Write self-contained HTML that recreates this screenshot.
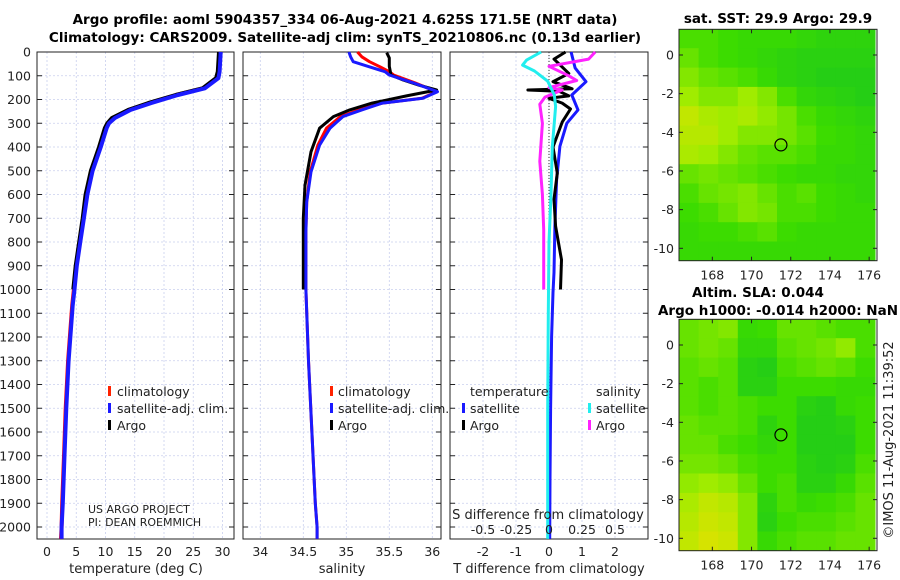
<!DOCTYPE html>
<html><head><meta charset="utf-8">
<style>
html,body{margin:0;padding:0;background:#fff;}
svg{display:block;font-family:"DejaVu Sans","Liberation Sans",sans-serif;}
</style></head>
<body>
<svg id="c" width="900" height="580" viewBox="0 0 900 580" xmlns="http://www.w3.org/2000/svg"></svg>
<script>
// ---- data ----
const tempDepth = [0,83,110,153,181,215,244,278,300,320,400,500,600,700,800,900,1000,1067,1300,1500,1700,1900,2000,2050];
const tempClim  = [29.5,29.3,29.0,26.7,22.1,17.5,14.0,11.3,10.4,10.0,9.0,7.6,6.7,6.2,5.6,5.0,4.6,4.3,3.6,3.2,2.9,2.6,2.5,2.4];
const tempSat   = [29.7,29.5,29.3,27.0,22.4,17.8,14.3,11.6,10.6,10.2,9.2,7.8,6.9,6.3,5.7,5.1,4.7,4.4,3.7,3.3,3.0,2.7,2.5,2.5];
const argoDepth = [0,83,110,153,181,215,244,278,300,320,400,500,600,700,800,900,1000];
const tempArgo  = [29.4,29.2,28.9,26.6,22.0,17.3,13.9,11.1,10.3,9.9,8.9,7.5,6.6,6.1,5.5,4.9,4.5];

const salDepth = [0,20,41,60,83,97,130,167,195,215,244,272,321,392,505,632,758,1000,1300,1600,1900,2000,2050];
const salClim  = [35.13,35.18,35.27,35.38,35.5,35.55,35.8,36.05,35.88,35.42,35.15,34.93,34.77,34.67,34.58,34.54,34.53,34.53,34.56,34.6,34.64,34.66,34.66];
const salSat   = [35.03,35.05,35.08,35.25,35.45,35.5,35.78,36.06,35.89,35.42,35.18,34.96,34.81,34.69,34.59,34.54,34.53,34.53,34.56,34.6,34.64,34.66,34.66];
const salArgoDepth = [3,25,60,97,118,140,160,185,215,244,272,321,420,561,700,850,1000];
const salArgo  = [35.47,35.5,35.5,35.52,35.66,35.85,36.05,35.7,35.3,35.04,34.85,34.69,34.59,34.52,34.5,34.5,34.5];

const tdSatDepth = [0,67,125,181,244,300,397,538,734,929,1012,1200,1500,1800,2050];
const tdSat      = [0.67,0.79,1.12,0.69,0.88,0.54,0.33,0.23,0.18,0.15,0.12,0.08,0.05,0.03,0.02];
const tdArgoDepth = [0,30,90,125,155,160,165,185,195,215,240,295,400,510,620,734,875,1000];
const tdArgo      = [0.5,0.15,0.6,0.12,0.7,-0.64,0.3,0.6,0.0,0.4,0.65,0.4,0.12,0.25,0.15,0.2,0.38,0.35];
const sdSatDepth = [0,34,55,80,123,180,230,400,600,800,1100,1500,2050];
const sdSat      = [-0.06,-0.17,-0.2,-0.11,-0.01,0.04,0.05,0.025,0.015,0.0,-0.005,-0.01,-0.01];
const sdArgoDepth = [0,30,60,100,120,150,160,190,220,300,460,600,748,1000];
const sdArgo      = [0.35,0.3,0.0,0.15,0.21,0.0,0.1,-0.03,-0.07,-0.05,-0.07,-0.05,-0.04,-0.04];

const depthTicks = [0,100,200,300,400,500,600,700,800,900,1000,1100,1200,1300,1400,1500,1600,1700,1800,1900,2000];
const tempTicks = [0,5,10,15,20,25,30];
const salTicks = [34,34.5,35,35.5,36];
const salTickLabels = ["34","34.5","35","35.5","36"];
const tdTicks = [-2,-1,0,1,2];
const sdTicks = [-0.5,-0.25,0,0.25,0.5];
const sdTickLabels = ["-0.5","-0.25","0","0.25","0.5"];

const mapLonTicks = [168,170,172,174,176];
const mapLatTicks = [0,-2,-4,-6,-8,-10];
const sstGrid = [
[0.4,0.4,0.35,0.3,0.3,0.3,0.25,0.2,0.2,0.2],
[0.5,0.4,0.35,0.3,0.25,0.2,0.15,0.15,0.15,0.15],
[0.6,0.5,0.45,0.4,0.3,0.2,0.15,0.1,0.1,0.1],
[0.7,0.6,0.6,0.7,0.6,0.4,0.25,0.2,0.15,0.1],
[0.85,0.75,0.7,0.75,0.65,0.55,0.4,0.3,0.25,0.2],
[0.8,0.8,0.7,0.6,0.6,0.55,0.45,0.35,0.3,0.25],
[0.75,0.7,0.6,0.5,0.45,0.45,0.4,0.3,0.3,0.25],
[0.5,0.55,0.5,0.45,0.4,0.35,0.3,0.3,0.25,0.25],
[0.4,0.5,0.55,0.6,0.5,0.4,0.45,0.35,0.3,0.25],
[0.35,0.4,0.5,0.6,0.55,0.4,0.4,0.35,0.3,0.3],
[0.3,0.35,0.35,0.4,0.45,0.35,0.3,0.3,0.3,0.3],
[0.3,0.3,0.3,0.3,0.3,0.3,0.3,0.3,0.3,0.3]];
const slaGrid = [
[0.5,0.55,0.6,0.3,0.35,0.5,0.5,0.45,0.4,0.4],
[0.5,0.55,0.5,0.25,0.25,0.45,0.5,0.55,0.65,0.4],
[0.45,0.5,0.45,0.15,0.1,0.4,0.45,0.5,0.45,0.35],
[0.45,0.4,0.45,0.15,0.15,0.35,0.35,0.35,0.3,0.3],
[0.45,0.4,0.45,0.4,0.35,0.35,0.15,0.1,0.3,0.35],
[0.5,0.45,0.45,0.4,0.2,0.35,0.1,0.1,0.15,0.35],
[0.5,0.5,0.4,0.35,0.25,0.35,0.1,0.1,0.1,0.35],
[0.55,0.55,0.5,0.4,0.35,0.35,0.15,0.1,0.15,0.4],
[0.65,0.7,0.65,0.5,0.35,0.4,0.15,0.15,0.3,0.45],
[0.75,0.85,0.8,0.6,0.2,0.4,0.3,0.35,0.4,0.5],
[0.8,0.9,0.85,0.6,0.15,0.35,0.4,0.4,0.45,0.5],
[0.85,0.95,0.9,0.6,0.3,0.4,0.45,0.45,0.5,0.5]];
const floatLon = 171.5, floatLat = -4.65;

// ---- helpers ----
const NS = "http://www.w3.org/2000/svg";
const svg = document.getElementById('c');
function el(tag, attrs, parent){ const e=document.createElementNS(NS,tag); for(const k in attrs) e.setAttribute(k,attrs[k]); (parent||svg).appendChild(e); return e; }
function txt(x,y,s,attrs,parent){ const t=el('text',Object.assign({x:x,y:y,'font-size':12.5,fill:'#222'},attrs||{}),parent); t.textContent=s; return t; }

const top0=52, bot0=539;
const yD = d => 52 + d*0.2375;
const panels = [
  {name:'temperature-panel', x0:37, x1:234, sx: v => 47 + v*5.85},
  {name:'salinity-panel', x0:243, x1:441, sx: v => 260.3 + (v-34)*86},
  {name:'difference-panel', x0:450, x1:648, sx: v => 549 + v*33}
];
const sdx = v => 549 + v*132;

function line(xs, ds, sx, color, w, name){
  let p='';
  for(let i=0;i<xs.length;i++){ p += (i?'L':'M') + sx(xs[i]).toFixed(1)+','+yD(ds[i]).toFixed(1); }
  const e = el('path',{d:p,fill:'none',stroke:color,'stroke-width':w,'stroke-linejoin':'round','clip-path':'url(#clip-'+name.split('-')[0]+')'});
  
  
  return e;
}

// titles
const t1 = txt(345,24,'Argo profile: aoml 5904357_334 06-Aug-2021 4.625S 171.5E (NRT data)',{'font-weight':'bold','font-size':13.5,'text-anchor':'middle',fill:'#000'});


const t2 = txt(345,42,'Climatology: CARS2009. Satellite-adj clim: synTS_20210806.nc (0.13d earlier)',{'font-weight':'bold','font-size':13.5,'text-anchor':'middle',fill:'#000'});



const defs = el('defs',{});
const clipNames=['temp','sal','diff'];
panels.forEach((p,i)=>{
  const cp = el('clipPath',{id:'clip-'+clipNames[i]},defs);
  el('rect',{x:p.x0,y:top0-3,width:p.x1-p.x0,height:bot0-top0+3},cp);
});

panels.forEach((p,pi)=>{
  const g = el('g',{});
  
  
  el('rect',{x:p.x0,y:top0,width:p.x1-p.x0,height:bot0-top0,fill:'#fff'},g);
  depthTicks.forEach(d=>{
    const y=yD(d);
    el('line',{x1:p.x0,x2:p.x1,y1:y,y2:y,stroke:'#c9cfee','stroke-width':0.8,'stroke-dasharray':'2,2'},g);
    el('line',{x1:p.x0,x2:p.x0+5,y1:y,y2:y,stroke:'#222','stroke-width':1},g);
    el('line',{x1:p.x1-5,x2:p.x1,y1:y,y2:y,stroke:'#222','stroke-width':1},g);
  });
  const ticks = pi===0?tempTicks:pi===1?salTicks:tdTicks;
  ticks.forEach((v,k)=>{
    const x=p.sx(v);
    el('line',{x1:x,x2:x,y1:top0,y2:bot0,stroke:'#c9cfee','stroke-width':0.8,'stroke-dasharray':'2,2'},g);
    const lab = pi===1?salTickLabels[k]:String(v);
    const tl = txt(x,556,lab,{'text-anchor':'middle'},g);
    
    
  });
  el('rect',{x:p.x0,y:top0,width:p.x1-p.x0,height:bot0-top0,fill:'none',stroke:'#222','stroke-width':1},g);
});
depthTicks.forEach(d=>{
  const t = txt(31,yD(d)+4.5,String(d),{'text-anchor':'end'});
  
  
});
[['temperature (deg C)',136,'x-axis-title-temperature'],['salinity',342,'x-axis-title-salinity'],['T difference from climatology',549,'x-axis-title-difference']].forEach(a=>{
  const t=txt(a[1],573,a[0],{'text-anchor':'middle','font-size':13});
  
  
});

line(tempClim,tempDepth,panels[0].sx,'#ff0000',4,'temp-climatology-line');
line(tempArgo,argoDepth,panels[0].sx,'#000000',4,'temp-argo-line');
line(tempSat,tempDepth,panels[0].sx,'#1a1aff',4,'temp-satellite-line');
line(salClim,salDepth,panels[1].sx,'#ff0000',3,'sal-climatology-line');
line(salArgo,salArgoDepth,panels[1].sx,'#000000',3,'sal-argo-line');
line(salSat,salDepth,panels[1].sx,'#1a1aff',3,'sal-satellite-line');
const zl = el('line',{x1:549,x2:549,y1:top0,y2:bot0,stroke:'#333','stroke-width':1,'stroke-dasharray':'1,2'});


line(tdSat,tdSatDepth,panels[2].sx,'#1a1aff',3,'diff-temp-satellite-line');
line(tdArgo,tdArgoDepth,panels[2].sx,'#000000',3,'diff-temp-argo-line');
line(sdArgo,sdArgoDepth,sdx,'#ff22ff',3,'diff-sal-argo-line');
line(sdSat,sdSatDepth,sdx,'#22eeee',3,'diff-sal-satellite-line');

const sdt = txt(548,519,'S difference from climatology',{'text-anchor':'middle','font-size':13});


sdTicks.forEach((v,k)=>{
  const t=txt(sdx(v),534,sdTickLabels[k],{'text-anchor':'middle'});
  
  
});

function legendEntry(mx,tx,y,color,label){
  const g=el('g',{});
  
  
  el('rect',{x:mx,y:y-10,width:3,height:10,fill:color},g);
  txt(tx,y,label,{'font-size':12.5},g);
}
legendEntry(108,117,396,'#ff2200','climatology');
legendEntry(108,117,413,'#1a1aff','satellite-adj. clim.');
legendEntry(108,117,430,'#000','Argo');
legendEntry(330,338,396,'#ff2200','climatology');
legendEntry(330,338,413,'#1a1aff','satellite-adj. clim.');
legendEntry(330,338,430,'#000','Argo');
const lt1=txt(470,396,'temperature');  
const lt2=txt(596,396,'salinity');  
legendEntry(462,470,413,'#1a1aff','satellite');
legendEntry(462,470,430,'#000','Argo');
legendEntry(588,596,413,'#22eeee','satellite');
legendEntry(588,596,430,'#ff22ff','Argo');

const pr1=txt(88,513,'US ARGO PROJECT',{'font-size':11});  
const pr2=txt(88,526,'PI: DEAN ROEMMICH',{'font-size':11});  

// maps
const lonMin=166.3, lonMax=176.4, latMax=1.35;
const mx0=679, mx1=877;
const lx = lon => mx0 + (lon-lonMin)*(mx1-mx0)/(lonMax-lonMin);
function col(v){
  const stops=[[0,[28,200,30]],[0.35,[60,220,0]],[0.7,[160,236,0]],[1,[225,225,0]]];
  for(let i=1;i<stops.length;i++){ if(v<=stops[i][0]){const a=stops[i-1],b=stops[i],f=(v-a[0])/(b[0]-a[0]);return 'rgb('+a[1].map((c,j)=>Math.round(c+(b[1][j]-c)*f)).join(',')+')';} }
  return 'rgb(225,225,0)';
}
function map(name,grid,y0,y1,lat0y){
  const ly = lat => lat0y - lat*19.33;
  const g=el('g',{});
  
  
  const cp=el('clipPath',{id:'clip-'+name},defs);
  el('rect',{x:mx0,y:y0,width:mx1-mx0,height:y1-y0},cp);
  const cells=el('g',{'clip-path':'url(#clip-'+name+')'},g);
  grid.forEach((row,r)=>row.forEach((v,c)=>{
    const lonA=lonMin+c, latA=latMax-r;
    const x=lx(lonA), y=ly(latA);
    const cell=el('rect',{x:x.toFixed(1),y:y.toFixed(1),width:(lx(lonA+1)-x+0.5).toFixed(1),height:(ly(latA-1)-y+0.5).toFixed(1),fill:col(v)},cells);
    
  }));
  el('rect',{x:mx0,y:y0,width:mx1-mx0,height:y1-y0,fill:'none',stroke:'#222','stroke-width':1},g);
  mapLonTicks.forEach(l=>{
    const x=lx(l);
    el('line',{x1:x,x2:x,y1:y1,y2:y1-4,stroke:'#222'},g);
    el('line',{x1:x,x2:x,y1:y0,y2:y0+4,stroke:'#222'},g);
    txt(x,y1+19,String(l),{'text-anchor':'middle'},g);
  });
  mapLatTicks.forEach(l=>{
    const y=ly(l);
    el('line',{x1:mx0,x2:mx0+4,y1:y,y2:y,stroke:'#222'},g);
    el('line',{x1:mx1,x2:mx1-4,y1:y,y2:y,stroke:'#222'},g);
    txt(mx0-5,y+4.5,String(l),{'text-anchor':'end'},g);
  });
  const m=el('circle',{cx:lx(floatLon),cy:ly(floatLat),r:6,fill:'none',stroke:'#000','stroke-width':1.2},g);
  
  
}
map('sst-map',sstGrid,29.3,260.7,55);
map('sla-map',slaGrid,319.3,550.7,345);
const mt1=txt(778,23,'sat. SST: 29.9 Argo: 29.9',{'font-weight':'bold','text-anchor':'middle','font-size':13.5,fill:'#000'});  
const mt2=txt(758,297,'Altim. SLA: 0.044',{'font-weight':'bold','text-anchor':'middle','font-size':13.5,fill:'#000'});  
const mt3=txt(778,315,'Argo h1000: -0.014 h2000: NaN',{'font-weight':'bold','text-anchor':'middle','font-size':13.5,fill:'#000'});  
const cr=txt(0,0,'©IMOS 11-Aug-2021 11:39:52',{'text-anchor':'middle','font-size':13,transform:'translate(893,440) rotate(-90)'});  
</script>
</body></html>
